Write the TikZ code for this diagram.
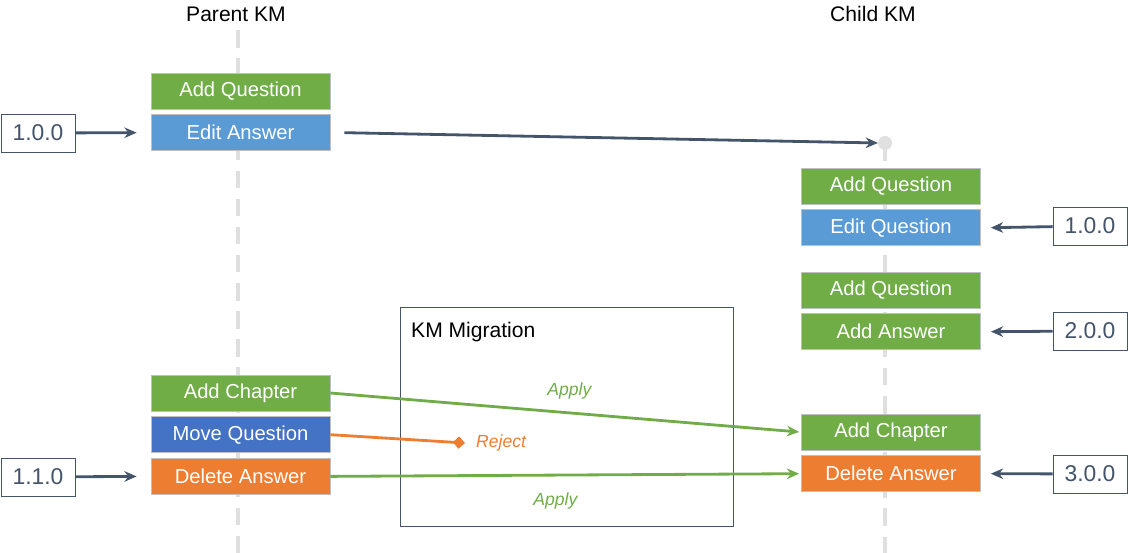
\documentclass[tikz,border=0pt]{standalone}
\usepackage{fontspec}
\setmainfont{Liberation Sans}
\usepackage{tikz}
\usetikzlibrary{positioning,arrows.meta}
\definecolor{kmgreen}{HTML}{70AD47}
\definecolor{kmblue}{HTML}{5B9BD5}
\definecolor{kmdblue}{HTML}{4472C4}
\definecolor{kmorange}{HTML}{ED7D31}
\definecolor{kmslate}{HTML}{44546A}
\tikzset{
  event/.style={draw=black!25, minimum width=3.58cm, minimum height=0.72cm, inner sep=0pt, text=white, font=\fontsize{11.5}{13}\selectfont},
  version/.style={draw=kmslate, fill=white, minimum width=1.48cm, minimum height=0.76cm, inner sep=0pt, text=kmslate, font=\fontsize{13}{15}\selectfont},
  vline/.style={black!12, line width=2.2pt, dash pattern=on 10pt off 6pt},
  tag/.style={font=\itshape\fontsize{10}{12}\selectfont},
  link/.style={line width=1.6pt, -{Stealth[length=7pt,width=6pt]}}
}
\begin{document}
\begin{tikzpicture}[x=0.02cm,y=-0.02cm]
\useasboundingbox (0,0) rectangle (1130,553);
% lanes
\draw[vline] (238,30) -- (238,553);
\draw[vline] (885,143) -- (885,553);
\node[font=\fontsize{12}{14}\selectfont] (parent) at (236,14) {Parent KM};
\node[font=\fontsize{12}{14}\selectfont] (child) at (873,14) {Child KM};
% migration box
\node[draw=kmslate, minimum width=6.66cm, minimum height=4.38cm, inner sep=0pt] (mig) at (566.5,416.5) {};
\node[anchor=north west, font=\fontsize{12}{14}\selectfont] (migl) at (405,316) {KM Migration};
% parent events
\node[event, fill=kmgreen] (pq) at (240.5,91) {Add Question};
\node[event, fill=kmblue, below=0.1cm of pq] (pa) {Edit Answer};
\node[event, fill=kmgreen] (pc) at (240.5,393) {Add Chapter};
\node[event, fill=kmdblue, below=0.1cm of pc] (pm) {Move Question};
\node[event, fill=kmorange, below=0.1cm of pm] (pd) {Delete Answer};
% child events
\node[event, fill=kmgreen] (cq1) at (891,186) {Add Question};
\node[event, fill=kmblue, below=0.1cm of cq1] (ce) {Edit Question};
\node[event, fill=kmgreen] (cq2) at (891,290) {Add Question};
\node[event, fill=kmgreen, below=0.1cm of cq2] (ca) {Add Answer};
\node[event, fill=kmgreen] (cc) at (891,432) {Add Chapter};
\node[event, fill=kmorange, below=0.1cm of cc] (cd) {Delete Answer};
% versions
\node[version] (v1) at (38,133) {1.0.0};
\node[version] (v2) at (38,477) {1.1.0};
\node[version] (w1) at (1090,226) {1.0.0};
\node[version] (w2) at (1090,331) {2.0.0};
\node[version] (w3) at (1090,474) {3.0.0};
\draw[link, kmslate] (v1) -- ([xshift=-0.28cm]pa.west);
\draw[link, kmslate] (v2) -- ([xshift=-0.28cm]pd.west);
\draw[link, kmslate] (w1) -- ([xshift=0.2cm]ce.east);
\draw[link, kmslate] (w2) -- ([xshift=0.2cm]ca.east);
\draw[link, kmslate] (w3) -- ([xshift=0.2cm]cd.east);
% fork point
\fill[black!12] (885,143) circle (7) coordinate (fork);
\draw[link, kmslate] ([xshift=0.28cm]pa.east) -- ([xshift=-0.14cm]fork);
% migration
\draw[link, kmgreen] (pc.east) -- ([xshift=-0.04cm]cc.west) node[tag, pos=0.51, above=0.12cm] {Apply};
\draw[line width=1.6pt, kmorange, -{Diamond[length=7pt,width=7pt]}] (pm.east) -- (465,443) coordinate (rej);
\node[tag, text=kmorange, right=0.1cm of rej] (rejl) {Reject};
\draw[link, kmgreen] (pd.east) -- ([xshift=-0.04cm]cd.west) node[tag, pos=0.48, below=0.2cm] {Apply};
\end{tikzpicture}
\end{document}
